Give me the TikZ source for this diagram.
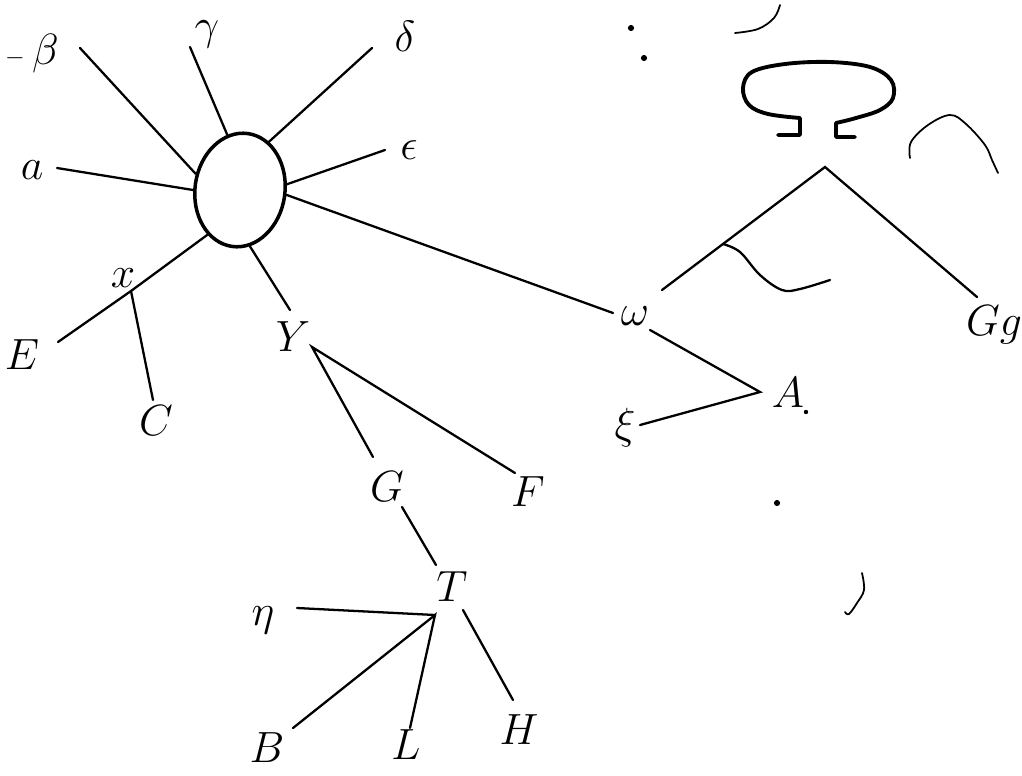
\documentclass[tikz,border=0pt]{standalone}
\usetikzlibrary{shapes.geometric}
\begin{document}
\begin{tikzpicture}[
  x=0.02cm, y=-0.02cm,
  lab/.style={inner sep=0pt, font=\fontsize{27}{32}\selectfont},
  hubnode/.style={draw, ellipse, line width=2pt, minimum width=1.8cm, minimum height=2.28cm, inner sep=0pt},
  edge/.style={line width=1.3pt, line cap=round},
  ink/.style={line width=1.3pt, line cap=round, line join=round},
  speck/.style={fill, circle, inner sep=0pt, minimum size=3.5pt}]
  \useasboundingbox (0,0) rectangle (1022,775);
  % hub with its spokes
  \node[hubnode, rotate=-8] (hub) at (240,190) {};
  \node[lab] (beta) at (32,54) {${\scriptscriptstyle -}\,\beta$};
  \node[lab] (gamma) at (207,34) {$\gamma$};
  \node[lab] (delta) at (405,36) {$\delta$};
  \node[lab] (eps) at (409,150) {$\epsilon$};
  \node[lab] (a) at (32,170) {$a$};
  \coordinate (beta-e) at (80,48);
  \coordinate (gamma-e) at (190,47);
  \coordinate (delta-e) at (372,48);
  \coordinate (eps-e) at (385,150);
  \coordinate (a-e) at (57,168);
  \draw[edge] (hub.168) -- (beta-e);
  \draw[edge] (hub.111) -- (gamma-e);
  \draw[edge] (hub.67) -- (delta-e);
  \draw[edge] (hub.15) -- (eps-e);
  \draw[edge] (hub.188) -- (a-e);
  % x branch
  \node[lab] (x) at (123,278) {$x$};
  \node[lab] (E) at (22,355) {$E$};
  \node[lab] (C) at (156,421) {$C$};
  \coordinate (xj) at (131,291);
  \coordinate (E-e) at (58,342);
  \coordinate (C-e) at (153,400);
  \draw[edge] (hub.-118) -- (xj) -- (E-e);
  \draw[edge] (xj) -- (C-e);
  % Y subtree
  \node[lab] (Y) at (293,337) {$Y$};
  \node[lab] (G) at (387,487) {$G$};
  \node[lab] (F) at (528,492) {$F$};
  \node[lab] (T) at (452,587) {$T$};
  \node[lab] (eta) at (263,620) {$\eta$};
  \node[lab] (B) at (267,748) {$B$};
  \node[lab] (L) at (406,745) {$L$};
  \node[lab] (H) at (519,730) {$H$};
  \coordinate (Y-e) at (290,310);
  \coordinate (yj) at (312,347);
  \coordinate (G-n) at (373,457);
  \coordinate (G-s) at (402,507);
  \coordinate (F-e) at (515,473);
  \coordinate (T-n) at (436,565);
  \coordinate (tj) at (435,615);
  \coordinate (eta-e) at (297,608);
  \coordinate (B-e) at (293,728);
  \coordinate (L-e) at (410,728);
  \coordinate (H-n) at (463,610);
  \coordinate (H-e) at (513,700);
  \draw[edge] (hub.-72) -- (Y-e);
  \draw[edge] (G-n) -- (yj) -- (F-e);
  \draw[edge] (G-s) -- (T-n);
  \draw[edge] (eta-e) -- (tj);
  \draw[edge] (B-e) -- (tj) -- (L-e);
  \draw[edge] (H-n) -- (H-e);
  % omega branch
  \node[lab] (omega) at (635,316) {$\omega$};
  \node[lab] (A) at (788,393) {$A$};
  \node[lab] (xi) at (625,428) {$\xi$};
  \coordinate (om-w) at (613,313);
  \coordinate (om-s) at (650,330);
  \coordinate (aj) at (760,392);
  \coordinate (xi-e) at (640,425);
  \draw[edge] (hub.2) -- (om-w);
  \draw[edge] (om-s) -- (aj) -- (xi-e);
  % mushroom and its fork
  \node[lab] (Gg) at (994,325) {$Gg$};
  \coordinate (top) at (825,167);
  \coordinate (om-ne) at (662,290);
  \coordinate (Gg-e) at (977,297);
  \coordinate (wj) at (723,244);
  \draw[edge] (om-ne) -- (top) -- (Gg-e);
  \draw[ink] (wj) plot[smooth, tension=0.6] coordinates {(723,244) (740,252) (760,275) (782,290) (800,289) (830,280)};
  \draw[ink, line width=2.2pt] (778,135) -- (800,135) -- (800,118)
    -- plot[smooth, tension=0.6] coordinates {(800,118) (768,114) (749,105) (743,88) (752,72) (785,64) (830,62) (870,67) (891,80) (893,98) (880,110) (856,118) (836,123)}
    -- (836,137) -- (855,137);
  % loose strokes
  \draw[ink, line width=1pt] plot[smooth, tension=0.6] coordinates {(910,158) (911,142) (928,125) (950,115) (966,124) (985,145) (992,160) (998,173)};
  \draw[ink, line width=1pt] plot[smooth, tension=0.6] coordinates {(735,33) (758,29) (774,18) (780,5)};
  \draw[ink, line width=1pt] plot[smooth, tension=0.6] coordinates {(862,573) (864,590) (857,603) (849,614) (845,612)};
  \node[speck] (s1) at (631,28) {};
  \node[speck] (s2) at (644,58) {};
  \node[speck] (s3) at (777,503) {};
  \node[speck, minimum size=2.5pt] (s4) at (806,412) {};
\end{tikzpicture}
\end{document}
